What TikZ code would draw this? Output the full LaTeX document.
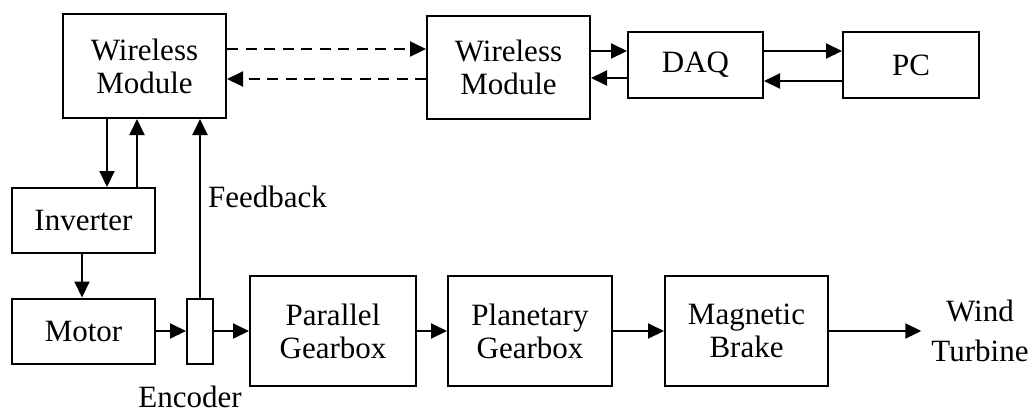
\documentclass[tikz,border=0pt]{standalone}
\usepackage{fontspec}
\setmainfont{Liberation Serif}
\usetikzlibrary{arrows.meta}
\begin{document}
\begin{tikzpicture}[x=1pt,y=-1pt,
  blk/.style={draw,line width=2pt,inner sep=0pt,align=center,font=\fontsize{31}{33}\selectfont},
  lbl/.style={inner sep=0pt,font=\fontsize{31}{33}\selectfont},
  arr/.style={line width=2pt,-{Triangle[length=16pt,width=15pt]}},
  darr/.style={arr,dash pattern=on 11pt off 7.5pt}]
\useasboundingbox (0,0) rectangle (1033,413);
% top row
\node[blk,minimum width=163pt,minimum height=104pt] (wm1) at (144.5,66) {Wireless\\Module};
\node[blk,minimum width=163pt,minimum height=103pt] (wm2) at (508.5,67.5) {Wireless\\Module};
\node[blk,minimum width=135pt,minimum height=66pt] (daq) at (695.5,65) {DAQ};
\node[blk,minimum width=136pt,minimum height=66pt] (pc) at (911,65) {PC};
% left column
\node[blk,minimum width=143pt,minimum height=65pt] (inv) at (83.5,220.5) {Inverter};
\node[blk,minimum width=143pt,minimum height=65pt] (mot) at (83.5,331) {Motor};
\node[blk,minimum width=26pt,minimum height=65pt] (enc) at (200,331) {};
% bottom row
\node[blk,minimum width=166pt,minimum height=110pt] (par) at (333,331) {Parallel\\Gearbox};
\node[blk,minimum width=164pt,minimum height=110pt] (pla) at (530,331) {Planetary\\Gearbox};
\node[blk,minimum width=163pt,minimum height=110pt] (mag) at (746.5,331) {Magnetic\\Brake};
\node[lbl,align=center,inner xsep=10pt,font=\fontsize{31}{40}\selectfont] (wt) at (980,331) {Wind\\Turbine};
% labels
\node[lbl,anchor=base west] (fb) at (208,207) {Feedback};
\node[lbl,anchor=base] (encl) at (190,407) {Encoder};
% wireless links
\draw[darr] (wm1.east |- 0,49) -- (wm2.west |- 0,49);
\draw[darr] (wm2.west |- 0,79) -- (wm1.east |- 0,79);
% DAQ links
\draw[arr] (wm2.east |- 0,51) -- (daq.west |- 0,51);
\draw[arr] (daq.west |- 0,78) -- (wm2.east |- 0,78);
\draw[arr] (daq.east |- 0,51) -- (pc.west |- 0,51);
\draw[arr] (pc.west |- 0,81) -- (daq.east |- 0,81);
% vertical links
\draw[arr] (wm1.south -| 107,0) -- (inv.north -| 107,0);
\draw[arr] (inv.north -| 137,0) -- (wm1.south -| 137,0);
\draw[arr] (enc.north) -- (wm1.south -| enc.north);
\draw[arr] (inv.south -| 82,0) -- (mot.north -| 82,0);
% drive train
\draw[arr] (mot) -- (enc);
\draw[arr] (enc) -- (par);
\draw[arr] (par) -- (pla);
\draw[arr] (pla) -- (mag);
\draw[arr] (mag) -- (wt.west);
\end{tikzpicture}
\end{document}
